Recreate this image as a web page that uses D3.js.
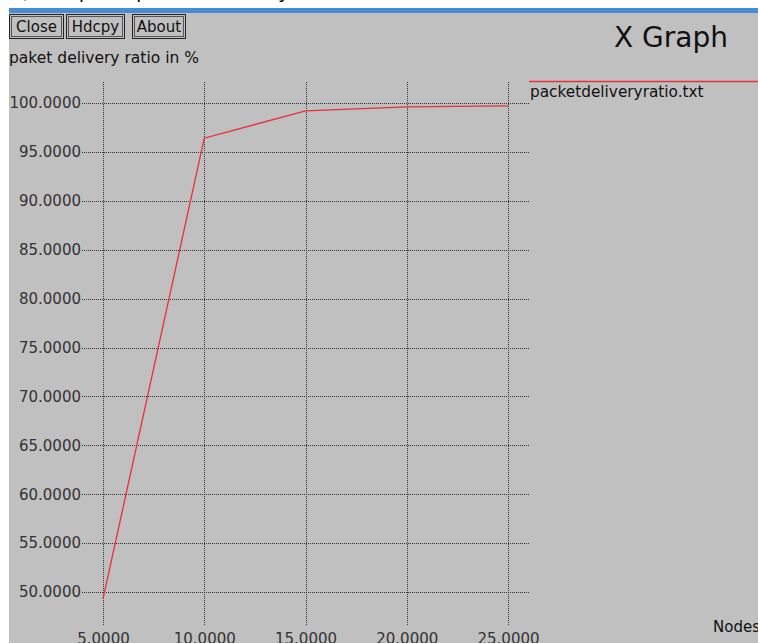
<!DOCTYPE html>
<html><head><meta charset="utf-8">
<script src="https://cdn.jsdelivr.net/npm/d3@7"></script>
<style>
html,body{margin:0;padding:0;background:#fff;overflow:hidden}
svg{display:block}
text{font-family:"DejaVu Sans",sans-serif}
</style></head>
<body>
<script>
const xValues = [5, 10, 15, 20, 25];
const yValues = [49.3, 96.4, 99.2, 99.6, 99.7];
const xTicks = [5, 10, 15, 20, 25];
const yTicks = [50, 55, 60, 65, 70, 75, 80, 85, 90, 95, 100];
const seriesName = "packetdeliveryratio.txt";
const buttons = ["Close", "Hdcpy", "About"];

const W = 758, H = 643;
const svg = d3.select("body").append("svg").attr("width", W).attr("height", H);

// window chrome
svg.append("rect").attr("x", 0).attr("y", 0).attr("width", W).attr("height", H).attr("fill", "#fff");
svg.append("rect").attr("x", 9).attr("y", 13).attr("width", W - 9).attr("height", H - 13).attr("fill", "#c0c0c0");
svg.append("rect").attr("x", 9).attr("y", 8).attr("width", W - 9).attr("height", 5).attr("fill", "#4a8bd6");
svg.append("text").attr("x", 10).attr("y", -2).attr("font-family", "Liberation Serif, serif")
  .attr("font-size", 20).attr("fill", "#111").text("a), Graph of packet delivery ratio");

// buttons
const bx = [9, 66, 132], bw = [54, 58, 53];
buttons.forEach((b, i) => {
  svg.append("rect").attr("x", bx[i] + 0.5).attr("y", 14.5).attr("width", bw[i]).attr("height", 24)
    .attr("fill", "none").attr("stroke", "#222").attr("stroke-width", 1);
  svg.append("rect").attr("x", bx[i] + 2.5).attr("y", 16.5).attr("width", bw[i] - 4).attr("height", 20)
    .attr("fill", "none").attr("stroke", "#555").attr("stroke-width", 1);
  svg.append("text").attr("x", bx[i] + bw[i] / 2 + 0.5).attr("y", 32).attr("text-anchor", "middle")
    .attr("font-size", 15).attr("fill", "#111").text(b);
});

svg.append("text").attr("x", 9).attr("y", 63).attr("font-size", 15.5).attr("fill", "#111")
  .text("paket delivery ratio in %");
svg.append("text").attr("x", 728).attr("y", 47).attr("text-anchor", "end")
  .attr("font-size", 28).attr("fill", "#111").text("X Graph");

// scales
const x = d3.scaleLinear().domain([5, 25]).range([103, 508]);
const y = d3.scaleLinear().domain([50, 100]).range([592, 103]);
const gridLeft = 82, gridRight = 529, gridTop = 81, gridBottom = 625;

// gridlines via axes
const yAxis = d3.axisLeft(y).tickValues(yTicks).tickSize(-(gridRight - gridLeft)).tickPadding(1)
  .tickFormat(d3.format(".4f"));
const gy = svg.append("g").attr("transform", `translate(${gridLeft},0)`).call(yAxis);
gy.select(".domain").remove();
gy.selectAll("line").attr("stroke", "#333").attr("stroke-dasharray", "1,1").attr("shape-rendering", "crispEdges");
gy.selectAll("text").attr("font-size", 15).attr("fill", "#333").attr("font-family", "DejaVu Sans, sans-serif");

const xAxis = d3.axisBottom(x).tickValues(xTicks).tickSize(-(gridBottom - gridTop)).tickPadding(8)
  .tickFormat(d3.format(".4f"));
const gx = svg.append("g").attr("transform", `translate(0,${gridBottom})`).call(xAxis);
gx.select(".domain").remove();
gx.selectAll("line").attr("stroke", "#333").attr("stroke-dasharray", "1,1").attr("shape-rendering", "crispEdges");
gx.selectAll("text").attr("font-size", 15).attr("fill", "#333").attr("font-family", "DejaVu Sans, sans-serif");

// data line
const data = xValues.map((v, i) => [v, yValues[i]]);
svg.append("path").datum(data)
  .attr("d", d3.line().x(d => x(d[0])).y(d => y(d[1])))
  .attr("fill", "none").attr("stroke", "#e8303a").attr("stroke-width", 1.3);

// legend
svg.append("line").attr("x1", 529).attr("x2", W).attr("y1", 81.5).attr("y2", 81.5)
  .attr("stroke", "#e8303a").attr("stroke-width", 1.3);
svg.append("text").attr("x", 530).attr("y", 97).attr("font-size", 15.3).attr("fill", "#111").text(seriesName);

svg.append("text").attr("x", 713).attr("y", 632).attr("font-size", 15).attr("fill", "#111").text("Nodes");
</script>
</body></html>
